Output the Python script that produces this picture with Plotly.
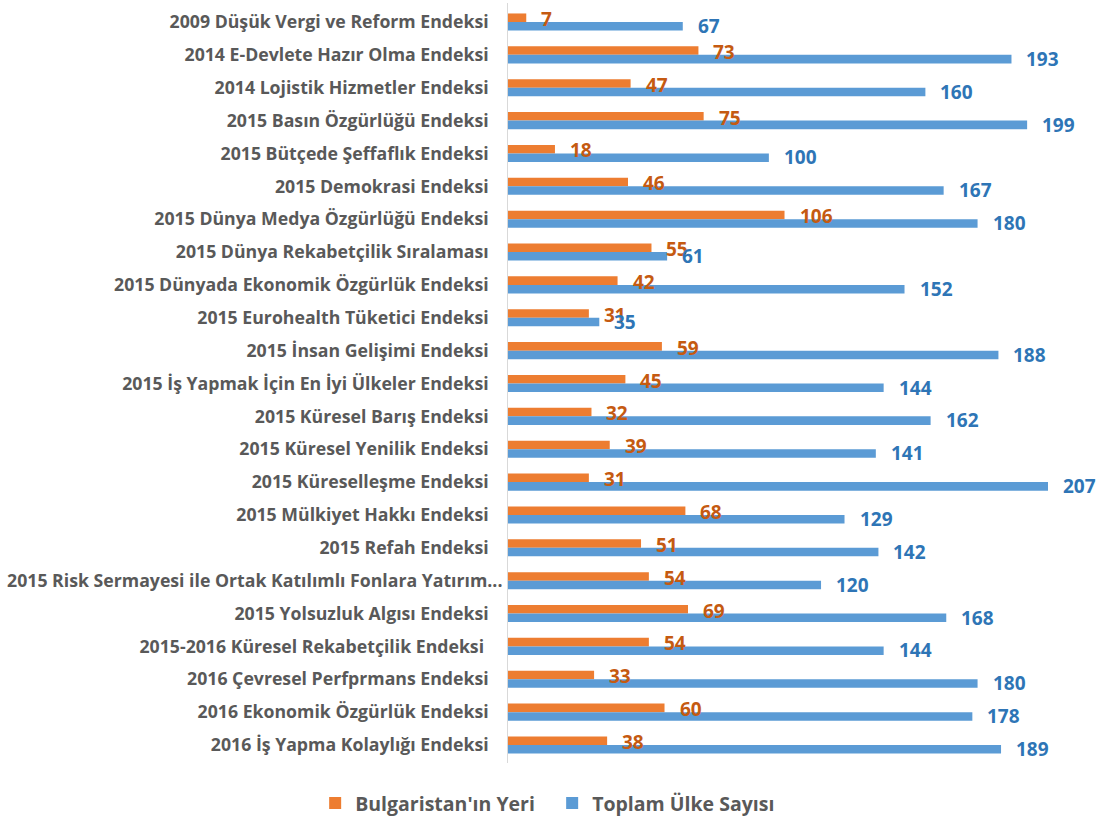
import plotly.graph_objects as go

categories = [
    "2009 Düşük Vergi ve Reform Endeksi",
    "2014 E-Devlete Hazır Olma Endeksi",
    "2014 Lojistik Hizmetler Endeksi",
    "2015 Basın Özgürlüğü Endeksi",
    "2015 Bütçede Şeffaflık Endeksi",
    "2015 Demokrasi Endeksi",
    "2015 Dünya Medya Özgürlüğü Endeksi",
    "2015 Dünya Rekabetçilik Sıralaması",
    "2015 Dünyada Ekonomik Özgürlük Endeksi",
    "2015 Eurohealth Tüketici Endeksi",
    "2015 İnsan Gelişimi Endeksi",
    "2015 İş Yapmak İçin En İyi Ülkeler Endeksi",
    "2015 Küresel Barış Endeksi",
    "2015 Küresel Yenilik Endeksi",
    "2015 Küreselleşme Endeksi",
    "2015 Mülkiyet Hakkı Endeksi",
    "2015 Refah Endeksi",
    "2015 Risk Sermayesi ile Ortak Katılımlı Fonlara Yatırım...",
    "2015 Yolsuzluk Algısı Endeksi",
    "2015-2016 Küresel Rekabetçilik Endeksi\u00a0",
    "2016 Çevresel Perfprmans Endeksi",
    "2016 Ekonomik Özgürlük Endeksi",
    "2016 İş Yapma Kolaylığı Endeksi",
]
bulgaria_rank = [7, 73, 47, 75, 18, 46, 106, 55, 42, 31, 59, 45, 32, 39, 31, 68, 51, 54, 69, 54, 33, 60, 38]
total_countries = [67, 193, 160, 199, 100, 167, 180, 61, 152, 35, 188, 144, 162, 141, 207, 129, 142, 120, 168, 144, 180, 178, 189]

series_names = ["Bulgaristan'ın Yeri", "Toplam Ülke Sayısı"]
bar_colors = ["#ED7D31", "#5B9BD5"]
label_colors = ["#C55A11", "#2E75B6"]

FONT = "Open Sans"
FS_TICK = 17.7
FS_LABEL = 19
FS_LEG = 19.5

# truncated labels (ending with an ellipsis) sit further right, as in the original
tick_text = [c if c.endswith("...") else c + "\u00a0\u00a0\u00a0" for c in categories]

fig = go.Figure()
for name, vals, col in zip(series_names, [bulgaria_rank, total_countries], bar_colors):
    fig.add_trace(go.Bar(
        y=categories, x=vals, name=name, orientation="h",
        marker=dict(color=col, line=dict(width=0)),
    ))

annotations = []
for vals, col, ysh in zip([bulgaria_rank, total_countries], label_colors, [3, -4]):
    for c, v in zip(categories, vals):
        annotations.append(dict(
            x=v, y=c, xref="x", yref="y", text=str(v), showarrow=False,
            xanchor="left", yanchor="middle", xshift=13, yshift=ysh,
            font=dict(family=FONT, size=FS_LABEL, color=col, weight="bold"),
        ))

fig.update_layout(
    width=1104, height=820,
    margin=dict(l=508, r=44, t=3, b=57, autoexpand=False),
    paper_bgcolor="white", plot_bgcolor="white",
    barmode="group", bargap=0.48, bargroupgap=0,
    annotations=annotations,
    xaxis=dict(range=[0, 211.6], visible=False, showgrid=False, zeroline=False),
    yaxis=dict(
        autorange="reversed", showgrid=False, zeroline=False, automargin=False,
        showline=True, linecolor="#D9D9D9", linewidth=1,
        ticks="", ticklabelstandoff=1,
        tickmode="array", tickvals=categories, ticktext=tick_text,
        tickfont=dict(family=FONT, size=FS_TICK, color="#595959", weight="bold"),
    ),
    legend=dict(
        orientation="h", x=0.08, xanchor="center", y=-0.053, yanchor="middle",
        font=dict(family=FONT, size=FS_LEG, color="#595959", weight="bold"),
        traceorder="normal", itemwidth=30, entrywidth=192,
    ),
    showlegend=True,
)

fig.write_html(
    "out.html",
    config={"displayModeBar": False},
    post_script="document.body.style.margin='0';document.body.style.overflow='hidden';",
)
